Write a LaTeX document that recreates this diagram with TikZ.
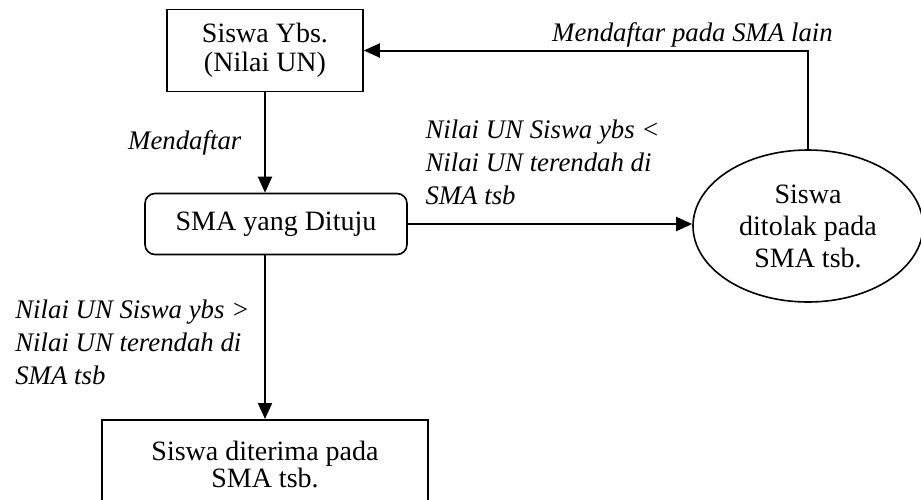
\documentclass[tikz,border=0pt]{standalone}
\usepackage{fontspec}
\setmainfont{Liberation Serif}
\usetikzlibrary{shapes.geometric,arrows.meta}

\tikzset{
	kotak/.style={draw,line width=0.8pt,align=center,font=\fontsize{14}{14.5}\selectfont},
	bulat/.style={kotak,ellipse,inner sep=0pt,font=\fontsize{14}{16}\selectfont},
	ket/.style={font=\fontsize{13.4}{16.5}\selectfont\itshape,align=left}
}

\begin{document}
\begin{tikzpicture}[x=0.5pt,y=-0.5pt,>={Triangle[length=8pt,width=7pt]},line width=1pt]
	\useasboundingbox (0,0) rectangle (921,499);
	\node[kotak,minimum width=98pt,minimum height=41pt] 		(ybs) at (265,50.5) {Siswa Ybs.\\(Nilai UN)};
	\node[kotak,rounded corners=5pt,minimum width=131pt,minimum height=30.5pt] (tuju) at (276,224) {SMA yang Dituju};
	\node[bulat,minimum width=115pt,minimum height=76pt] 		(tolak) at (808,226) {Siswa\\ditolak pada\\SMA tsb.};
	\node[kotak,font=\fontsize{14}{13.5}\selectfont,minimum width=163pt,inner ysep=10.5pt,anchor=north] (terima) at (265,419) {Siswa diterima pada\\SMA tsb.};
	\path[->]
	(ybs.south) edge node[ket,left=8pt] {Mendaftar} (ybs.south |- tuju.north)
	(ybs.south |- tuju.south) edge node[ket,left=4pt,yshift=-2.75pt] {Nilai UN Siswa ybs >\\Nilai UN terendah di\\SMA tsb} (terima.north)
	(tuju.east) edge node[ket,above=6pt,xshift=-3.75pt] {Nilai UN Siswa ybs <\\Nilai UN terendah di\\SMA tsb} (tuju.east -| tolak.west);
	\draw[->] (tolak.north) |- node[ket,pos=0.63,above=-2pt] {Mendaftar pada SMA lain} (ybs.east);
\end{tikzpicture}
\end{document}
